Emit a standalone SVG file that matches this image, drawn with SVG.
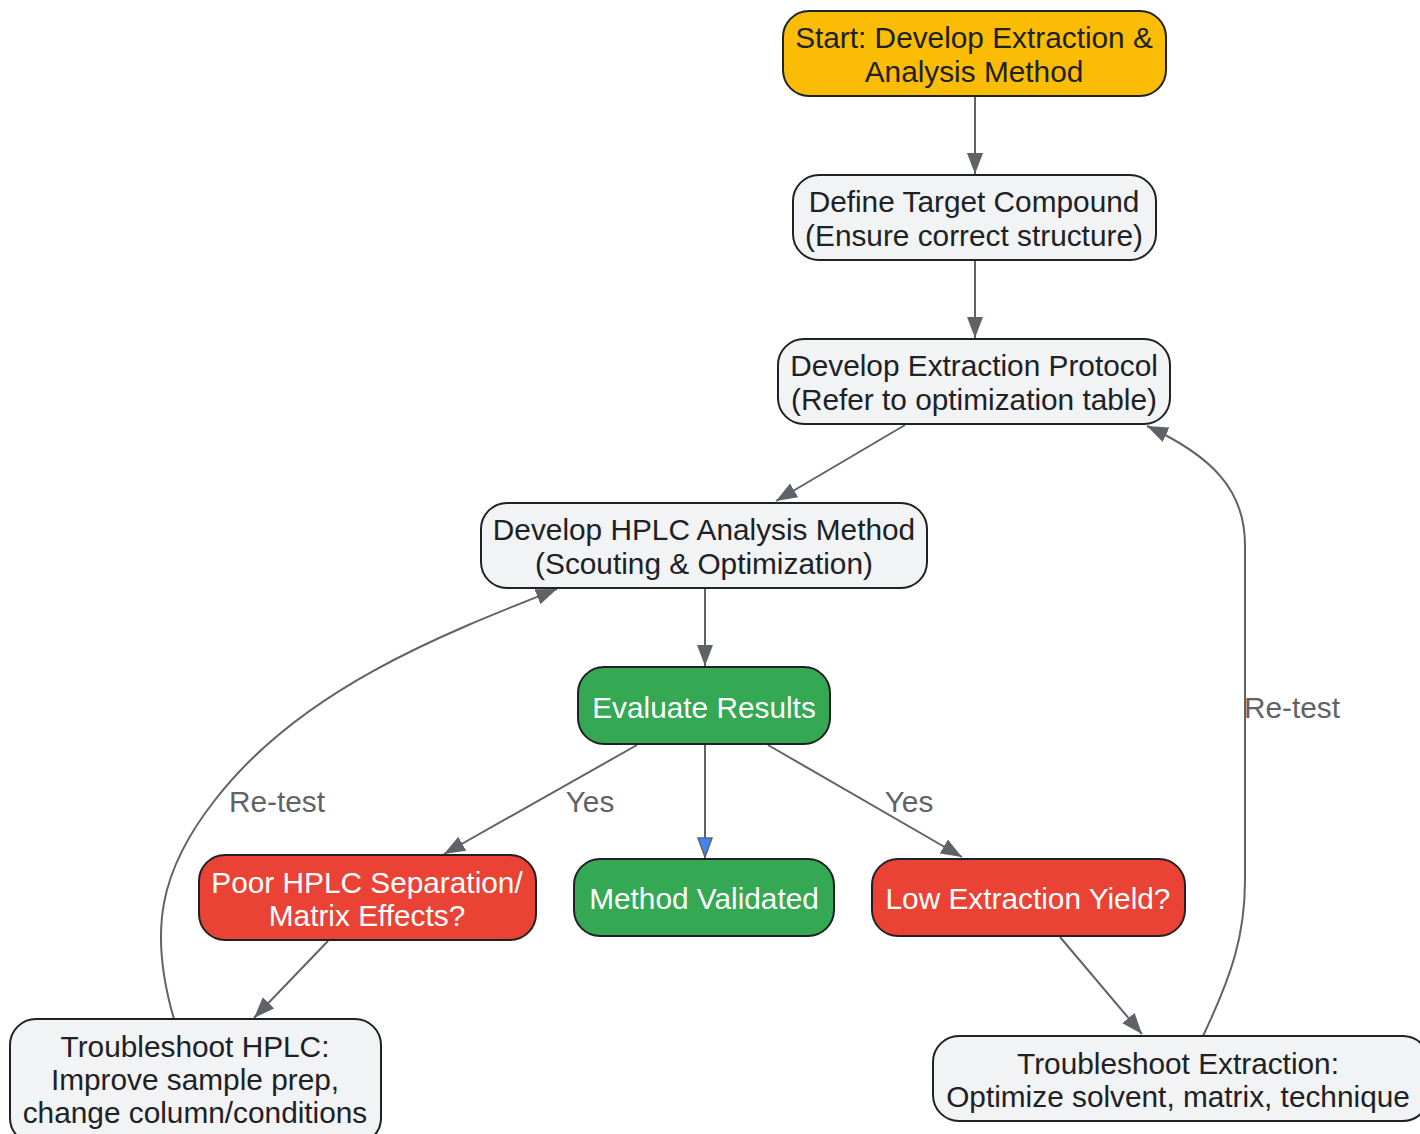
<svg xmlns="http://www.w3.org/2000/svg" width="1420" height="1134" viewBox="0 0 1420 1134">
<style>
.n rect{stroke:#202124;stroke-width:2}
.g rect{fill:#F1F3F4}
.y rect{fill:#FBBC05}
.gr rect{fill:#34A853}
.r rect{fill:#EA4335}
text{font-family:"Liberation Sans",Arial,sans-serif;font-size:29.8px;text-anchor:middle}
.n text{fill:#202124}
.gr text,.r text{fill:#FFFFFF}
.e path{fill:none;stroke:#5F6368;stroke-width:2}
.lbl{fill:#5F6368}
</style>
<defs>
<marker id="a" markerUnits="userSpaceOnUse" markerWidth="24" markerHeight="20" refX="21" refY="8" orient="auto"><path d="M0,0 L21,8 L0,16 z" fill="#5F6368"/></marker>
<marker id="b" markerUnits="userSpaceOnUse" markerWidth="24" markerHeight="20" refX="21" refY="8" orient="auto"><path d="M1,1 L20,8 L1,15 z" fill="#4285F4" stroke="#5F6368" stroke-width="1.5"/></marker>
</defs>
<g class="e" id="edges">
<path d="M975,96 L975,174" marker-end="url(#a)"/>
<path d="M975,260 L975,338" marker-end="url(#a)"/>
<path d="M905,425 L776,501" marker-end="url(#a)"/>
<path d="M705,588 L705,666" marker-end="url(#a)"/>
<path d="M637,745 L444,854" marker-end="url(#a)"/>
<path d="M705,745 L705,858" marker-end="url(#b)"/>
<path d="M768,745 L962,857" marker-end="url(#a)"/>
<path d="M328,941 L254,1018" marker-end="url(#a)"/>
<path d="M1060,937 L1142,1034" marker-end="url(#a)"/>
<path d="M1203,1036 C1232,975 1245,935 1245,880 L1245,545 C1245,490 1212,456 1147,426" marker-end="url(#a)"/>
<path d="M174,1019 C148,930 160,870 215,800 C300,690 440,635 557,589" marker-end="url(#a)"/>
<text class="lbl" x="590" y="812">Yes</text>
<text class="lbl" x="909" y="812">Yes</text>
<text class="lbl" x="1292" y="718">Re-test</text>
<text class="lbl" x="277" y="812">Re-test</text>
</g>
<g id="start" class="n y"><rect x="783" y="11" width="383" height="85" rx="26"/><text x="974" y="48">Start: Develop Extraction &amp;</text><text x="974" y="82">Analysis Method</text></g>
<g id="define" class="n g"><rect x="793" y="175" width="363" height="85" rx="26"/><text x="974" y="212">Define Target Compound</text><text x="974" y="246">(Ensure correct structure)</text></g>
<g id="protocol" class="n g"><rect x="778" y="339" width="392" height="85" rx="26"/><text x="974" y="376">Develop Extraction Protocol</text><text x="974" y="410">(Refer to optimization table)</text></g>
<g id="hplc" class="n g"><rect x="481" y="503" width="446" height="85" rx="26"/><text x="704" y="540">Develop HPLC Analysis Method</text><text x="704" y="574">(Scouting &amp; Optimization)</text></g>
<g id="evaluate" class="n gr"><rect x="578" y="667" width="252" height="77" rx="26"/><text x="704" y="718">Evaluate Results</text></g>
<g id="poor" class="n r"><rect x="199" y="855" width="337" height="85" rx="26"/><text x="367" y="893">Poor HPLC Separation/</text><text x="367" y="926">Matrix Effects?</text></g>
<g id="validated" class="n gr"><rect x="574" y="859" width="260" height="77" rx="26"/><text x="704" y="909">Method Validated</text></g>
<g id="low" class="n r"><rect x="872" y="859" width="313" height="77" rx="26"/><text x="1028" y="909">Low Extraction Yield?</text></g>
<g id="tshplc" class="n g"><rect x="10" y="1019" width="371" height="125" rx="26"/><text x="195" y="1057">Troubleshoot HPLC:</text><text x="195" y="1090">Improve sample prep,</text><text x="195" y="1123">change column/conditions</text></g>
<g id="tsext" class="n g"><rect x="933" y="1036" width="496" height="85" rx="26"/><text x="1178" y="1074">Troubleshoot Extraction:</text><text x="1178" y="1107">Optimize solvent, matrix, technique</text></g>
</svg>
